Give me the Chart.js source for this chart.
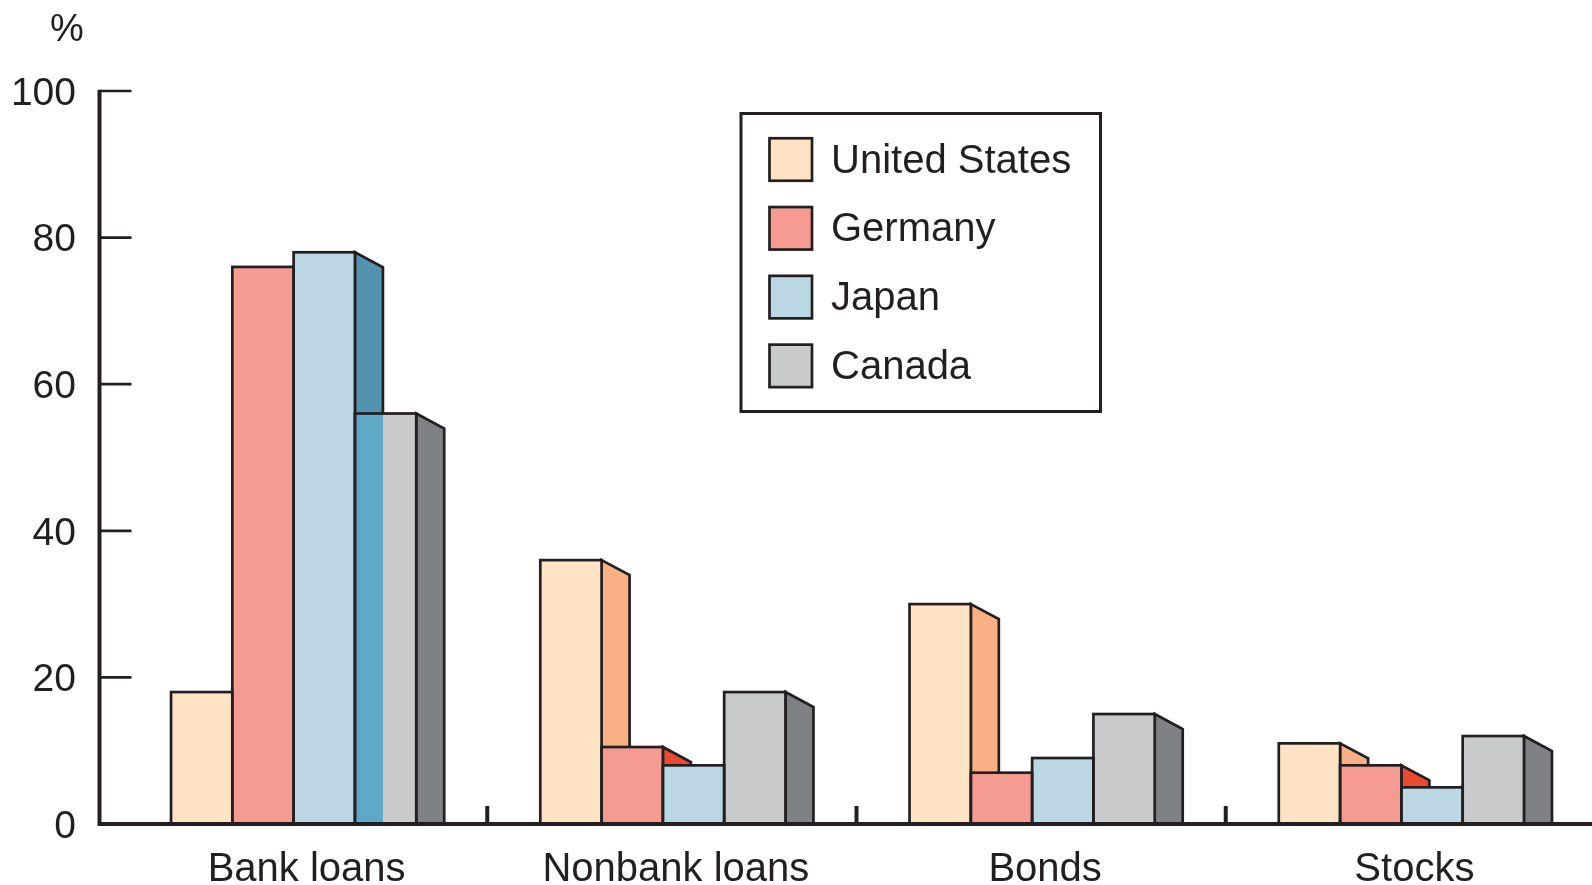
<!DOCTYPE html>
<html>
<head>
<meta charset="utf-8">
<title>External funds by source</title>
<script src="https://cdn.jsdelivr.net/npm/chart.js@4.4.1/dist/chart.umd.min.js"></script>
<style>
  html, body { margin: 0; padding: 0; background: #fff; }
  #wrap { position: relative; width: 1592px; height: 885px; }
</style>
</head>
<body>
<div id="wrap"><canvas id="chart"></canvas></div>
<script>
/* ---------- Data ---------- */
const CATEGORIES     = ['Bank loans', 'Nonbank loans', 'Bonds', 'Stocks'];
const COUNTRIES      = ['United States', 'Germany', 'Japan', 'Canada'];
const US_VALUES      = [18, 36, 30, 11];
const GERMANY_VALUES = [76, 10.5, 7, 8];
const JAPAN_VALUES   = [78, 8, 9, 5];
const CANADA_VALUES  = [56, 18, 15, 12];
const Y_TICKS        = [0, 20, 40, 60, 80, 100];

/* ---------- Look ---------- */
const INK = '#231f20';
const FONT = '"Liberation Sans", Arial, Helvetica, sans-serif';
const FRONT_COLORS = ['#fee3c4', '#f59b91', '#bbd7e4', '#c9cacc'];
const SIDE_COLORS  = ['#f9b085', '#e84a32', '#5294b0', '#808184'];
const DEPTH_X = 28;     // side face width
const DEPTH_Y = 15;     // side face slope
const EDGE = 2.7;
// Japan's bank-loan side face stays visible across the Canada bar
const SHOW_THROUGH = { dataset: 2, index: 0, color: '#5fa8c8' };

function barBox(el){
  const p = el.getProps(['x', 'y', 'base', 'width'], true);
  return { l: p.x - p.width / 2, r: p.x + p.width / 2, top: p.y, base: p.base, w: p.width };
}

/* side faces go under the fronts, so the next bar hides what it should */
const sideFaces = {
  id: 'sideFaces',
  beforeDatasetsDraw(chart){
    const ctx = chart.ctx;
    ctx.save();
    ctx.lineWidth = EDGE;
    ctx.strokeStyle = INK;
    ctx.lineJoin = 'miter';
    chart.data.datasets.forEach((ds, di) => {
      chart.getDatasetMeta(di).data.forEach(el => {
        const b = barBox(el);
        ctx.beginPath();
        ctx.moveTo(b.r, b.top);
        ctx.lineTo(b.r + DEPTH_X, b.top + DEPTH_Y);
        ctx.lineTo(b.r + DEPTH_X, b.base);
        ctx.lineTo(b.r, b.base);
        ctx.closePath();
        ctx.fillStyle = SIDE_COLORS[di];
        ctx.fill();
        ctx.stroke();
      });
    });
    ctx.restore();
  },
  afterDatasetsDraw(chart){
    const ctx = chart.ctx;
    ctx.save();
    // blue strip over the grey bar
    const me = barBox(chart.getDatasetMeta(SHOW_THROUGH.dataset).data[SHOW_THROUGH.index]);
    const next = barBox(chart.getDatasetMeta(SHOW_THROUGH.dataset + 1).data[SHOW_THROUGH.index]);
    ctx.fillStyle = SHOW_THROUGH.color;
    ctx.fillRect(me.r, next.top, DEPTH_X, next.base - next.top);

    // front outlines
    ctx.lineWidth = EDGE;
    ctx.strokeStyle = INK;
    chart.data.datasets.forEach((ds, di) => {
      chart.getDatasetMeta(di).data.forEach(el => {
        const b = barBox(el);
        ctx.strokeRect(b.l, b.top, b.w, b.base - b.top);
      });
    });
    ctx.restore();
  }
};

/* axis lines, inner ticks, group separators, unit and legend */
const frame = {
  id: 'frame',
  afterDatasetsDraw(chart){
    const ctx = chart.ctx;
    const { left, top, bottom } = chart.chartArea;
    const xS = chart.scales.x, yS = chart.scales.y;
    const axisX = left - 9.5;
    ctx.save();
    ctx.strokeStyle = INK;
    ctx.lineCap = 'butt';

    ctx.lineWidth = 4;
    ctx.beginPath();
    ctx.moveTo(axisX, top - 1.25);
    ctx.lineTo(axisX, bottom + 2);
    ctx.moveTo(axisX - 2, bottom);
    ctx.lineTo(chart.width, bottom);
    ctx.stroke();

    ctx.lineWidth = EDGE;
    ctx.beginPath();
    Y_TICKS.slice(1).forEach(v => {
      const py = yS.getPixelForValue(v);
      ctx.moveTo(axisX, py);
      ctx.lineTo(axisX + 32, py);
    });
    ctx.stroke();

    ctx.lineWidth = 4;
    ctx.beginPath();
    for (let i = 0; i < CATEGORIES.length - 1; i++) {
      const px = (xS.getPixelForValue(i) + xS.getPixelForValue(i + 1)) / 2 + 9;
      ctx.moveTo(px, bottom);
      ctx.lineTo(px, bottom - 18);
    }
    ctx.stroke();

    ctx.fillStyle = INK;
    ctx.font = '38px ' + FONT;
    ctx.textAlign = 'center';
    ctx.textBaseline = 'alphabetic';
    ctx.fillText('%', 67, 41);

    // legend
    ctx.lineWidth = 3;
    ctx.strokeRect(741, 113.5, 359.5, 298);
    ctx.font = '40px ' + FONT;
    ctx.textAlign = 'left';
    chart.data.datasets.forEach((ds, i) => {
      const cy = 159.5 + i * 68.8;
      ctx.fillStyle = ds.backgroundColor;
      ctx.fillRect(769.5, cy - 21.25, 42.5, 42.5);
      ctx.lineWidth = EDGE;
      ctx.strokeRect(769.5, cy - 21.25, 42.5, 42.5);
      ctx.fillStyle = INK;
      ctx.fillText(ds.label, 831, cy + 13);
    });
    ctx.restore();
  }
};

const seriesValues = [US_VALUES, GERMANY_VALUES, JAPAN_VALUES, CANADA_VALUES];

new Chart(document.getElementById('chart'), {
  type: 'bar',
  data: {
    labels: CATEGORIES,
    datasets: COUNTRIES.map((name, i) => ({
      label: name,
      data: seriesValues[i],
      backgroundColor: FRONT_COLORS[i],
      borderWidth: 0,
      barPercentage: 1,
      categoryPercentage: 0.664
    }))
  },
  options: {
    responsive: true,
    maintainAspectRatio: false,
    animation: false,
    layout: { padding: { top: 91, right: 6, bottom: 0, left: 0 } },
    plugins: {
      legend: { display: false },
      tooltip: { enabled: false }
    },
    scales: {
      x: {
        offset: true,
        grid: { display: false, drawTicks: false },
        border: { display: false },
        ticks: { color: INK, font: { family: FONT, size: 40 }, padding: 22, labelOffset: 13, maxRotation: 0, autoSkip: false },
        afterFit(s){ s.height = 61; }
      },
      y: {
        min: 0,
        max: 100,
        afterBuildTicks(s){ s.ticks = Y_TICKS.map(v => ({ value: v })); },
        grid: { display: false, drawTicks: false },
        border: { display: false },
        ticks: { color: INK, font: { family: FONT, size: 39 }, padding: 33, labelOffset: 3 },
        afterFit(s){ s.width = 109; }
      }
    }
  },
  plugins: [sideFaces, frame]
});
</script>
</body>
</html>
